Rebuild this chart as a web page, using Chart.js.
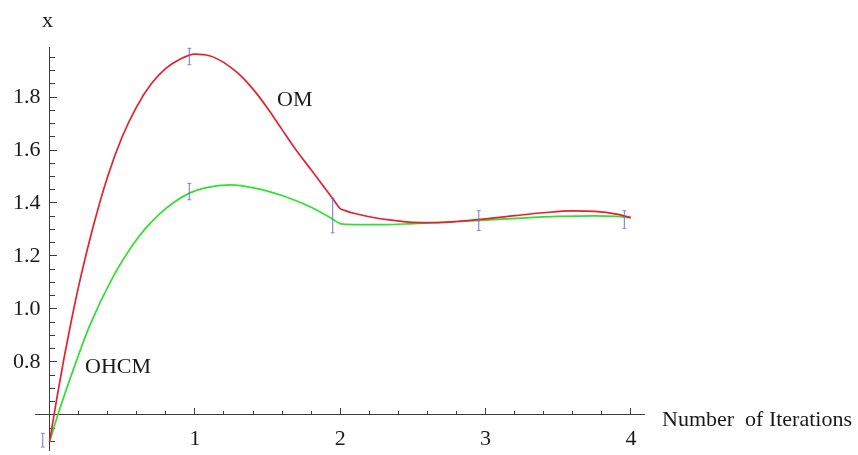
<!DOCTYPE html>
<html>
<head>
<meta charset="utf-8">
<script src="https://cdn.jsdelivr.net/npm/chart.js@4.4.1/dist/chart.umd.min.js"></script>
<style>
  html, body { margin: 0; padding: 0; background: #ffffff; }
  #wrap { width: 858px; height: 455px; }
</style>
</head>
<body>
<div id="wrap"><canvas id="c" width="858" height="455"></canvas></div>
<script>
// ---- data ----
const seriesNames = ['OM', 'OHCM'];

const omX = [0, 0.05, 0.1, 0.15, 0.2, 0.3, 0.4, 0.5, 0.6, 0.7, 0.8, 0.9, 1.0, 1.1, 1.2, 1.3, 1.4, 1.5, 1.6, 1.7, 1.8, 1.9, 1.95, 2.0, 2.03, 2.1, 2.2, 2.35, 2.5, 2.65, 2.8, 3.0, 3.2, 3.4, 3.6, 3.75, 3.9, 4.0];
const omY = [0.497, 0.662, 0.815, 0.955, 1.085, 1.31, 1.50, 1.65, 1.764, 1.85, 1.908, 1.944, 1.962, 1.956, 1.93, 1.888, 1.83, 1.758, 1.677, 1.597, 1.525, 1.452, 1.415, 1.379, 1.372, 1.36, 1.348, 1.335, 1.327, 1.326, 1.33, 1.340, 1.352, 1.363, 1.370, 1.368, 1.358, 1.345];

const ohcmX = [0, 0.057, 0.16, 0.275, 0.436, 0.577, 0.665, 0.76, 0.85, 0.966, 1.078, 1.24, 1.42, 1.6, 1.75, 1.85, 1.93, 2.0, 2.05, 2.15, 2.3, 2.5, 2.75, 3.0, 3.25, 3.5, 3.75, 3.9, 4.0];
const ohcmY = [0.497, 0.6, 0.765, 0.935, 1.12, 1.245, 1.307, 1.36, 1.4, 1.438, 1.458, 1.468, 1.455, 1.428, 1.396, 1.37, 1.345, 1.322, 1.319, 1.318, 1.318, 1.322, 1.328, 1.335, 1.343, 1.349, 1.351, 1.349, 1.344];

// error bars
const errX    = [-0.047, 0.962, 0.962, 1.948, 2.953, 3.955];
const errLow  = [0.478, 1.922, 1.412, 1.287, 1.296, 1.304];
const errHigh = [0.530, 1.984, 1.474, 1.418, 1.371, 1.371];

// ticks
const xMajorTicks = [1, 2, 3, 4];
const xMinorTicks = [0.2, 0.4, 0.6, 0.8, 1.2, 1.4, 1.6, 1.8, 2.2, 2.4, 2.6, 2.8, 3.2, 3.4, 3.6, 3.8];
const yMajorTicks = [0.8, 1.0, 1.2, 1.4, 1.6, 1.8];
const yMinorTicks = [0.5, 0.55, 0.65, 0.7, 0.75, 0.85, 0.9, 0.95, 1.05, 1.1, 1.15, 1.25, 1.3, 1.35, 1.45, 1.5, 1.55, 1.65, 1.7, 1.75, 1.85, 1.9, 1.95];

const xTitle = 'Number  of Iterations';
const yTitle = 'x';
const labelX = [1.565, 0.244];
const labelY = [1.765, 0.759];

// ---- styling ----
const FAM = "'Liberation Serif', 'Times New Roman', serif";
const FONT = { family: FAM, size: 22 };
const AXIS = '#3c3c3c';
const TEXT = '#1a1a1a';
const RED = '#e8202e';
const GREEN = '#2fe02f';
const ERR = 'rgba(110,110,215,0.8)';

const X_MIN = -0.1, X_MAX = 4.09, Y_MIN = 0.467, Y_MAX = 1.989, X_CROSS = 0.6;

function fixTicks(list) {
  return function (scale) { scale.ticks = list.map(v => ({ value: v })); };
}
function noPad(scale) {
  scale.paddingTop = 0; scale.paddingBottom = 0; scale.paddingLeft = 0; scale.paddingRight = 0;
}

const errData = [];
errX.forEach((ex, i) => {
  errData.push({ x: ex, y: errLow[i] }, { x: ex, y: errHigh[i] }, { x: ex, y: null });
});

const textPlugin = {
  id: 'texts',
  afterDraw(chart) {
    const { ctx, chartArea } = chart;
    const xs = chart.scales.x, ys = chart.scales.y;
    ctx.save();
    ctx.font = '22px ' + FAM;
    ctx.fillStyle = TEXT;
    ctx.textBaseline = 'alphabetic';
    ctx.textAlign = 'center';
    ctx.fillText(yTitle, xs.getPixelForValue(0) - 2, chartArea.top - 20);
    ctx.textAlign = 'left';
    ctx.fillText(xTitle, chartArea.right + 18, ys.getPixelForValue(X_CROSS) + 11);
    seriesNames.forEach((n, i) => {
      ctx.fillText(n, xs.getPixelForValue(labelX[i]), ys.getPixelForValue(labelY[i]));
    });
    ctx.restore();
  }
};

new Chart(document.getElementById('c'), {
  type: 'line',
  data: {
    datasets: [
      {
        label: 'error',
        data: errData,
        xAxisID: 'x', yAxisID: 'y',
        borderColor: ERR, borderWidth: 1.2,
        pointStyle: 'line', pointRadius: 2, pointBorderWidth: 1, pointBorderColor: ERR,
        spanGaps: false, tension: 0, fill: false
      },
      {
        label: seriesNames[0],
        data: omX.map((v, i) => ({ x: v, y: omY[i] })),
        xAxisID: 'x', yAxisID: 'y',
        borderColor: RED, borderWidth: 1.7, pointRadius: 0,
        cubicInterpolationMode: 'monotone', fill: false
      },
      {
        label: seriesNames[1],
        data: ohcmX.map((v, i) => ({ x: v, y: ohcmY[i] })),
        xAxisID: 'x', yAxisID: 'y',
        borderColor: GREEN, borderWidth: 1.7, pointRadius: 0,
        cubicInterpolationMode: 'monotone', fill: false
      }
    ]
  },
  options: {
    responsive: false,
    animation: false,
    events: [],
    layout: { padding: { left: 0, right: 214, top: 47, bottom: 0 } },
    plugins: { legend: { display: false }, tooltip: { enabled: false }, title: { display: false } },
    scales: {
      x: {
        type: 'linear', min: X_MIN, max: X_MAX, position: { y: X_CROSS },
        afterBuildTicks: fixTicks(xMajorTicks), afterFit: noPad,
        grid: { drawOnChartArea: false, drawTicks: true, tickLength: -7, color: AXIS, tickColor: AXIS, lineWidth: 1 },
        border: { display: true, color: AXIS, width: 1 },
        ticks: { autoSkip: false, maxRotation: 0, padding: 18, font: FONT, color: TEXT, callback: v => String(v) }
      },
      xMinor: {
        type: 'linear', min: X_MIN, max: X_MAX, position: { y: X_CROSS },
        afterBuildTicks: fixTicks(xMinorTicks), afterFit: noPad,
        grid: { drawOnChartArea: false, drawTicks: true, tickLength: -4, color: AXIS, tickColor: AXIS, lineWidth: 1 },
        border: { display: false },
        ticks: { display: false, autoSkip: false }
      },
      y: {
        type: 'linear', min: Y_MIN, max: Y_MAX, position: 'left',
        afterBuildTicks: fixTicks(yMajorTicks),
        afterFit: s => { s.width = 35; noPad(s); },
        grid: { display: false, drawTicks: false },
        border: { display: false },
        ticks: { autoSkip: false, mirror: true, padding: -22, font: FONT, color: TEXT, callback: v => v.toFixed(1) }
      },
      yAx: {
        type: 'linear', min: Y_MIN, max: Y_MAX, position: { x: 0 },
        afterBuildTicks: fixTicks(yMajorTicks), afterFit: noPad,
        grid: { drawOnChartArea: false, drawTicks: true, tickLength: -8, color: AXIS, tickColor: AXIS, lineWidth: 1 },
        border: { display: true, color: AXIS, width: 1 },
        ticks: { display: false, autoSkip: false }
      },
      yMinor: {
        type: 'linear', min: Y_MIN, max: Y_MAX, position: { x: 0 },
        afterBuildTicks: fixTicks(yMinorTicks), afterFit: noPad,
        grid: { drawOnChartArea: false, drawTicks: true, tickLength: -5, color: AXIS, tickColor: AXIS, lineWidth: 1 },
        border: { display: false },
        ticks: { display: false, autoSkip: false }
      }
    }
  },
  plugins: [textPlugin]
});
</script>
</body>
</html>
